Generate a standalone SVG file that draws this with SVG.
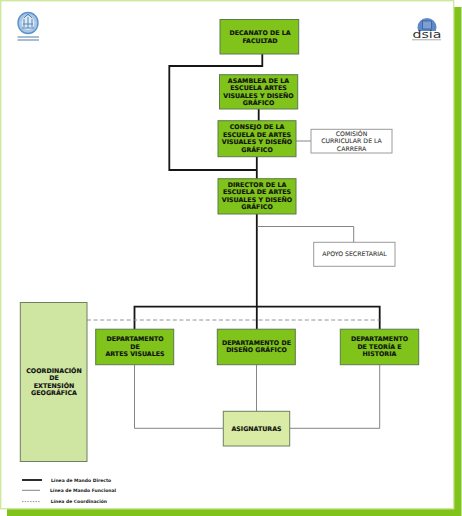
<svg xmlns="http://www.w3.org/2000/svg" width="462" height="516" viewBox="0 0 462 516">
<style>
text{font-family:"DejaVu Sans",sans-serif;text-anchor:middle;fill:#111}
.g{fill:#7fc31b;stroke:#5d7a4a;stroke-width:1}
.l{fill:#cfe6a2;stroke:#6f7f60;stroke-width:1}
.a{fill:#d9eba4;stroke:#6f7f60;stroke-width:1}
.w{fill:#fff;stroke:#9a9a9a;stroke-width:1}
.b{font-size:6.3px;font-weight:bold;stroke:#111;stroke-width:.12}
.n{font-size:6.2px;fill:#333;stroke:#333;stroke-width:.08}
.k{font-size:4.5px;font-weight:bold;text-anchor:start;fill:#222}
.thick{fill:none;stroke:#161616;stroke-width:1.800}
.thin{fill:none;stroke:#777;stroke-width:.9}
.dash{fill:none;stroke:#888;stroke-width:.9;stroke-dasharray:4 2.6}
</style>
<g id="page">
<rect x="7" y="7" width="454.500" height="509" fill="#80c31a"/>
<rect x="0.700" y="0.700" width="453" height="508" fill="#fff" stroke="#cfe8a0" stroke-width="1.400"/>
</g>
<g id="logo-universidad">
<ellipse cx="28" cy="23" rx="10" ry="10.500" fill="#a9c6e4" stroke="#5b93c8" stroke-width="1.400"/>
<ellipse cx="28" cy="23" rx="6.500" ry="7" fill="#dce8f3"/>
<path d="M22 28h12M23 24h10M24 18l4-4 4 4M28 17v11M24 19v8M32 19v8" fill="none" stroke="#4a7fb5" stroke-width=".9"/>
<path d="M17.500 37h21.500M17.500 40h21.500" stroke="#8ca6c4" stroke-width="1.500" fill="none"/>
</g>
<g id="logo-dsia">
<circle cx="427" cy="27.500" r="9.500" fill="#5f88c8"/>
<rect x="422.500" y="21" width="9" height="8" fill="#7e9fd4" stroke="#33558f" stroke-width=".7"/>
<rect x="412" y="31" width="30" height="7.500" fill="#fff"/>
<text x="427" y="38" style="font-family:'DejaVu Sans',sans-serif;font-size:11px;fill:#333" textLength="29" lengthAdjust="spacingAndGlyphs">dsia</text>
<path d="M412 39.800h29" stroke="#aaa" stroke-width="1"/>
</g>
<g id="connectors">
<path class="thick" d="M262.300 54V66H169.300V170H257M258.700 109V121M256.800 157V179M256.800 214V329M134.500 329V306.700H379.700V329"/>
<path class="thin" d="M296 141H311M257 226.500H353.700V242M134.500 365V428.300H223.300M256.500 365V411.300M379.700 365V428.300H289.700"/>
<path class="dash" d="M87 320H379.700"/>
</g>
<g id="decanato"><rect class="g" x="220" y="19.500" width="78.700" height="34.500"/><text class="b" x="260" y="34.800">DECANATO DE LA</text><text class="b" x="260" y="42.800">FACULTAD</text></g>
<g id="asamblea"><rect class="g" x="219.500" y="74.700" width="78.200" height="34.300"/><text class="b" x="258.500" y="82.500">ASAMBLEA DE LA</text><text class="b" x="258.500" y="90">ESCUELA ARTES</text><text class="b" x="258.500" y="97.500">VISUALES Y DISEÑO</text><text class="b" x="258.500" y="105">GRÁFICO</text></g>
<g id="consejo"><rect class="g" x="218" y="120.700" width="78" height="36"/><text class="b" x="257" y="129">CONSEJO DE LA</text><text class="b" x="257" y="136.500">ESCUELA DE ARTES</text><text class="b" x="257" y="144">VISUALES Y DISEÑO</text><text class="b" x="257" y="151.500">GRÁFICO</text></g>
<g id="comision"><rect class="w" x="311" y="129.300" width="81" height="23.700"/><text class="n" x="351.500" y="135.500">COMISIÓN</text><text class="n" x="351.500" y="143">CURRICULAR DE LA</text><text class="n" x="351.500" y="151">CARRERA</text></g>
<g id="director"><rect class="g" x="218" y="178.700" width="78" height="35.300"/><text class="b" x="257" y="186.800">DIRECTOR  DE LA</text><text class="b" x="257" y="194.300">ESCUELA DE ARTES</text><text class="b" x="257" y="201.800">VISUALES Y DISEÑO</text><text class="b" x="257" y="209">GRÁFICO</text></g>
<g id="apoyo"><rect class="w" x="313.700" y="242.300" width="81.300" height="24"/><text class="n" x="354.500" y="256">APOYO SECRETARIAL</text></g>
<g id="coordinacion"><rect class="l" x="20.300" y="302.500" width="66.700" height="159"/><text class="b" x="54" y="372.800">COORDINACIÓN</text><text class="b" x="54" y="380.300">DE</text><text class="b" x="54" y="387.800">EXTENSIÓN</text><text class="b" x="54" y="395.300">GEOGRÁFICA</text></g>
<g id="dep-artes"><rect class="g" x="95.700" y="329.200" width="78" height="35.500"/><text class="b" x="135" y="341">DEPARTAMENTO</text><text class="b" x="135" y="348.500">DE</text><text class="b" x="135" y="356">ARTES VISUALES</text></g>
<g id="dep-diseno"><rect class="g" x="217.300" y="329.200" width="78" height="35.500"/><text class="b" x="256.500" y="344.500">DEPARTAMENTO DE</text><text class="b" x="256.500" y="352">DISEÑO GRÁFICO</text></g>
<g id="dep-teoria"><rect class="g" x="340.300" y="329.200" width="78.400" height="35.500"/><text class="b" x="379.500" y="341">DEPARTAMENTO</text><text class="b" x="379.500" y="348.500">DE TEORÍA E</text><text class="b" x="379.500" y="356">HISTORIA</text></g>
<g id="asignaturas"><rect class="a" x="223.300" y="411.300" width="66.400" height="34.700"/><text class="b" x="256.500" y="430.500">ASIGNATURAS</text></g>
<g id="legend">
<path class="thick" d="M22 480H42"/><path class="thin" d="M22 490.300H40"/><path class="dash" style="stroke-dasharray:1.500 1.200" d="M22 501.600H40"/>
<text class="k" x="51" y="482">Línea de Mando Directo</text>
<text class="k" x="50" y="492">Línea de Mando Funcional</text>
<text class="k" x="50.700" y="502.500">Línea de Coordinación</text>
</g>
</svg>
